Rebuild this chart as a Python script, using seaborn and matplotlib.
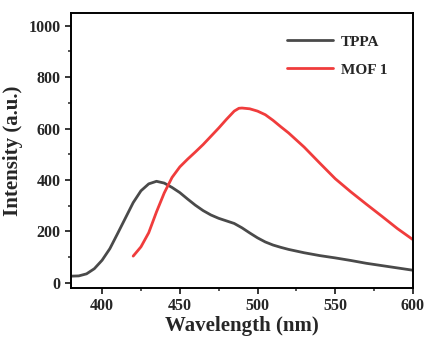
import numpy as np
import pandas as pd
import seaborn as sns
import matplotlib.pyplot as plt
from matplotlib.ticker import MultipleLocator

tppa_x = [380, 385, 390, 395, 400, 405, 410, 415, 420, 425, 430, 435, 440, 445, 450, 455,
          460, 465, 470, 475, 480, 485, 490, 495, 500, 505, 510, 515, 520, 530, 540, 550, 560,
          570, 580, 590, 600]
tppa_y = [26, 27, 35, 55, 88, 133, 192, 252, 312, 358, 385, 395, 388, 371, 351, 326,
          302, 281, 264, 251, 241, 231, 214, 194, 175, 159, 147, 138, 130, 117, 106, 97, 87,
          76, 67, 58, 49]
mof_x = [420, 425, 430, 435, 440, 445, 450, 455, 460, 465, 470, 475, 480, 485, 488, 490, 495,
         500, 505, 510, 515, 520, 530, 540, 550, 560, 570, 580, 590, 600]
mof_y = [104, 140, 195, 276, 350, 410, 451, 481, 509, 538, 570, 602, 636, 668, 679, 680, 677,
         668, 654, 632, 607, 583, 528, 466, 405, 354, 306, 259, 211, 168]

df = pd.concat([
    pd.DataFrame({"Wavelength": tppa_x, "Intensity": tppa_y, "Sample": "TPPA"}),
    pd.DataFrame({"Wavelength": mof_x, "Intensity": mof_y, "Sample": "MOF 1"}),
])

sns.set_style("ticks")
plt.rcParams['font.family'] = ['Liberation Serif', 'DejaVu Serif']
plt.rcParams['font.weight'] = 'bold'

fig = plt.figure(figsize=(4.37, 3.40), dpi=100)
ax = fig.add_axes([0.1625, 0.153, 0.7825, 0.809])
sns.lineplot(data=df, x="Wavelength", y="Intensity", hue="Sample",
             palette={"TPPA": "#4a4a4a", "MOF 1": "#f03c3c"}, linewidth=2.0, ax=ax,
             sort=True)

ax.set_xlim(380, 600)
ax.set_ylim(-20, 1050)
ax.xaxis.set_major_locator(MultipleLocator(50))
ax.xaxis.set_minor_locator(MultipleLocator(25))
ax.yaxis.set_major_locator(MultipleLocator(200))
ax.yaxis.set_minor_locator(MultipleLocator(100))
ax.tick_params(which='major', direction='out', length=4, width=1.3, labelsize=11.5)
ax.tick_params(which='minor', direction='out', length=2.5, width=1.1)
for lab in ax.get_xticklabels() + ax.get_yticklabels():
    lab.set_fontweight('bold')
for s in ax.spines.values():
    s.set_linewidth(1.4)
    s.set_color('black')

ax.set_xlabel("Wavelength (nm)", fontsize=15, fontweight='bold', labelpad=1)
ax.set_ylabel("Intensity (a.u.)", fontsize=15, fontweight='bold', labelpad=4)

leg = ax.legend(loc='upper right', frameon=False, fontsize=11, handlelength=3.0,
                handletextpad=0.5, bbox_to_anchor=(0.965, 0.97), labelspacing=0.95, title=None)
for t in leg.get_texts():
    t.set_fontweight('bold')

fig.savefig("out.png", dpi=100)
